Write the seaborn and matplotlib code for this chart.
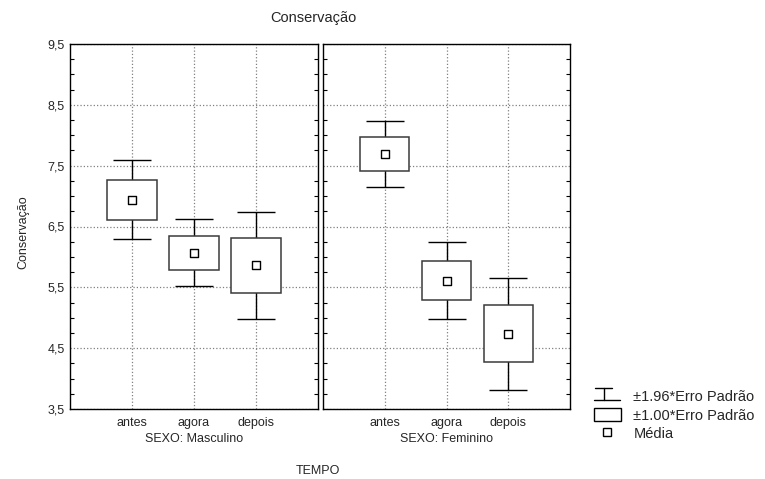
import numpy as np
import pandas as pd
import matplotlib
matplotlib.use("Agg")
import matplotlib.pyplot as plt
import seaborn as sns
from matplotlib.lines import Line2D
from matplotlib.patches import Rectangle
from matplotlib.legend_handler import HandlerBase
from matplotlib.ticker import MultipleLocator, FuncFormatter

# data: means and standard errors per group
tempo = ['antes', 'agora', 'depois']
sexo = ['Masculino', 'Feminino']
media_masc = [6.94, 6.07, 5.86]
ep_masc = [0.33, 0.28, 0.45]
media_fem = [7.69, 5.61, 4.74]
ep_fem = [0.28, 0.32, 0.47]
yticks = [3.5, 4.5, 5.5, 6.5, 7.5, 8.5, 9.5]

df = pd.DataFrame({
    'SEXO': np.repeat(sexo, 3),
    'TEMPO': tempo * 2,
    'media': media_masc + media_fem,
    'ep': ep_masc + ep_fem,
})
df['pos'] = df['TEMPO'].map({t: i + 1 for i, t in enumerate(tempo)})

sns.set_style('white')
plt.rcParams['font.family'] = ['Liberation Sans', 'DejaVu Sans']
plt.rcParams['font.size'] = 9


class HandlerWhisker(HandlerBase):
    # legend glyph for the 1.96*SE whisker
    def create_artists(self, legend, orig, xd, yd, w, h, fontsize, trans):
        cx = xd + w * 0.36
        top = Line2D([xd + w * 0.05, xd + w * 0.68], [yd + h, yd + h], color='black', lw=1)
        vert = Line2D([cx, cx], [yd, yd + h], color='black', lw=1)
        bot = Line2D([xd, xd + w * 0.95], [yd, yd], color='black', lw=1)
        for a in (top, vert, bot):
            a.set_transform(trans)
        return [top, vert, bot]


fig = plt.figure(figsize=(7.65, 4.79), dpi=100)
ax1 = fig.add_axes([70 / 765, 1 - 409 / 479, 248 / 765, 365 / 479])
ax2 = fig.add_axes([323 / 765, 1 - 409 / 479, 247 / 765, 365 / 479])

for ax, s in zip([ax1, ax2], sexo):
    sub = df[df['SEXO'] == s]
    ax.errorbar(sub['pos'], sub['media'], yerr=1.96 * sub['ep'], fmt='none',
                ecolor='black', elinewidth=1, capsize=13.5, capthick=1, zorder=2)
    ax.bar(sub['pos'], 2 * sub['ep'], bottom=sub['media'] - sub['ep'], width=0.8,
           color='white', edgecolor='#3a3a3a', linewidth=1.1, zorder=3)
    sns.scatterplot(data=sub, x='pos', y='media', marker='s', s=28, color='white',
                    edgecolor='black', linewidth=1, zorder=4, ax=ax, legend=False)
    ax.set_xlim(0, 4)
    ax.set_ylim(3.5, 9.5)
    ax.set_xticks([1, 2, 3])
    ax.set_xticklabels(tempo)
    ax.set_yticks(yticks)
    ax.yaxis.set_minor_locator(MultipleLocator(0.25))
    ax.yaxis.set_major_formatter(FuncFormatter(lambda v, p: f'{v:.1f}'.replace('.', ',')))
    ax.grid(True, which='major', linestyle=':', color='#808080', linewidth=0.9)
    ax.set_axisbelow(True)
    ax.tick_params(axis='x', length=0, pad=6)
    ax.tick_params(axis='y', which='both', direction='in', left=True, right=True)
    ax.tick_params(axis='y', which='major', length=0, pad=4)
    ax.tick_params(axis='y', which='minor', length=3, width=0.8, color='black')
    ax.set_xlabel(f'SEXO: {s}', labelpad=3)
    ax.set_ylabel('')
    for sp in ax.spines.values():
        sp.set_color('black')
        sp.set_linewidth(1)

ax2.tick_params(axis='y', labelleft=False)

fig.text(313 / 765, 1 - 18 / 479, 'Conservação', ha='center', va='center', fontsize=10.5)
fig.text(318 / 765, 1 - 471 / 479, 'TEMPO', ha='center', va='center')
fig.text(23 / 765, 1 - 232 / 479, 'Conservação', ha='center', va='center', rotation=90)

handles = [object(),
           Rectangle((0, 0), 1, 1, facecolor='white', edgecolor='black', linewidth=1),
           Line2D([], [], marker='s', linestyle='none', markersize=5.5,
                  markerfacecolor='white', markeredgecolor='black', markeredgewidth=1)]
labels = ['±1.96*Erro Padrão', '±1.00*Erro Padrão', 'Média']
fig.legend(handles, labels, handler_map={object: HandlerWhisker()},
           loc='upper left', bbox_to_anchor=(594 / 765, 1 - 390 / 479), fontsize=10.5,
           frameon=False, handlelength=1.85, handleheight=0.9, handletextpad=0.85,
           labelspacing=0.3, borderaxespad=0, borderpad=0)

fig.savefig('out.png', dpi=100)
